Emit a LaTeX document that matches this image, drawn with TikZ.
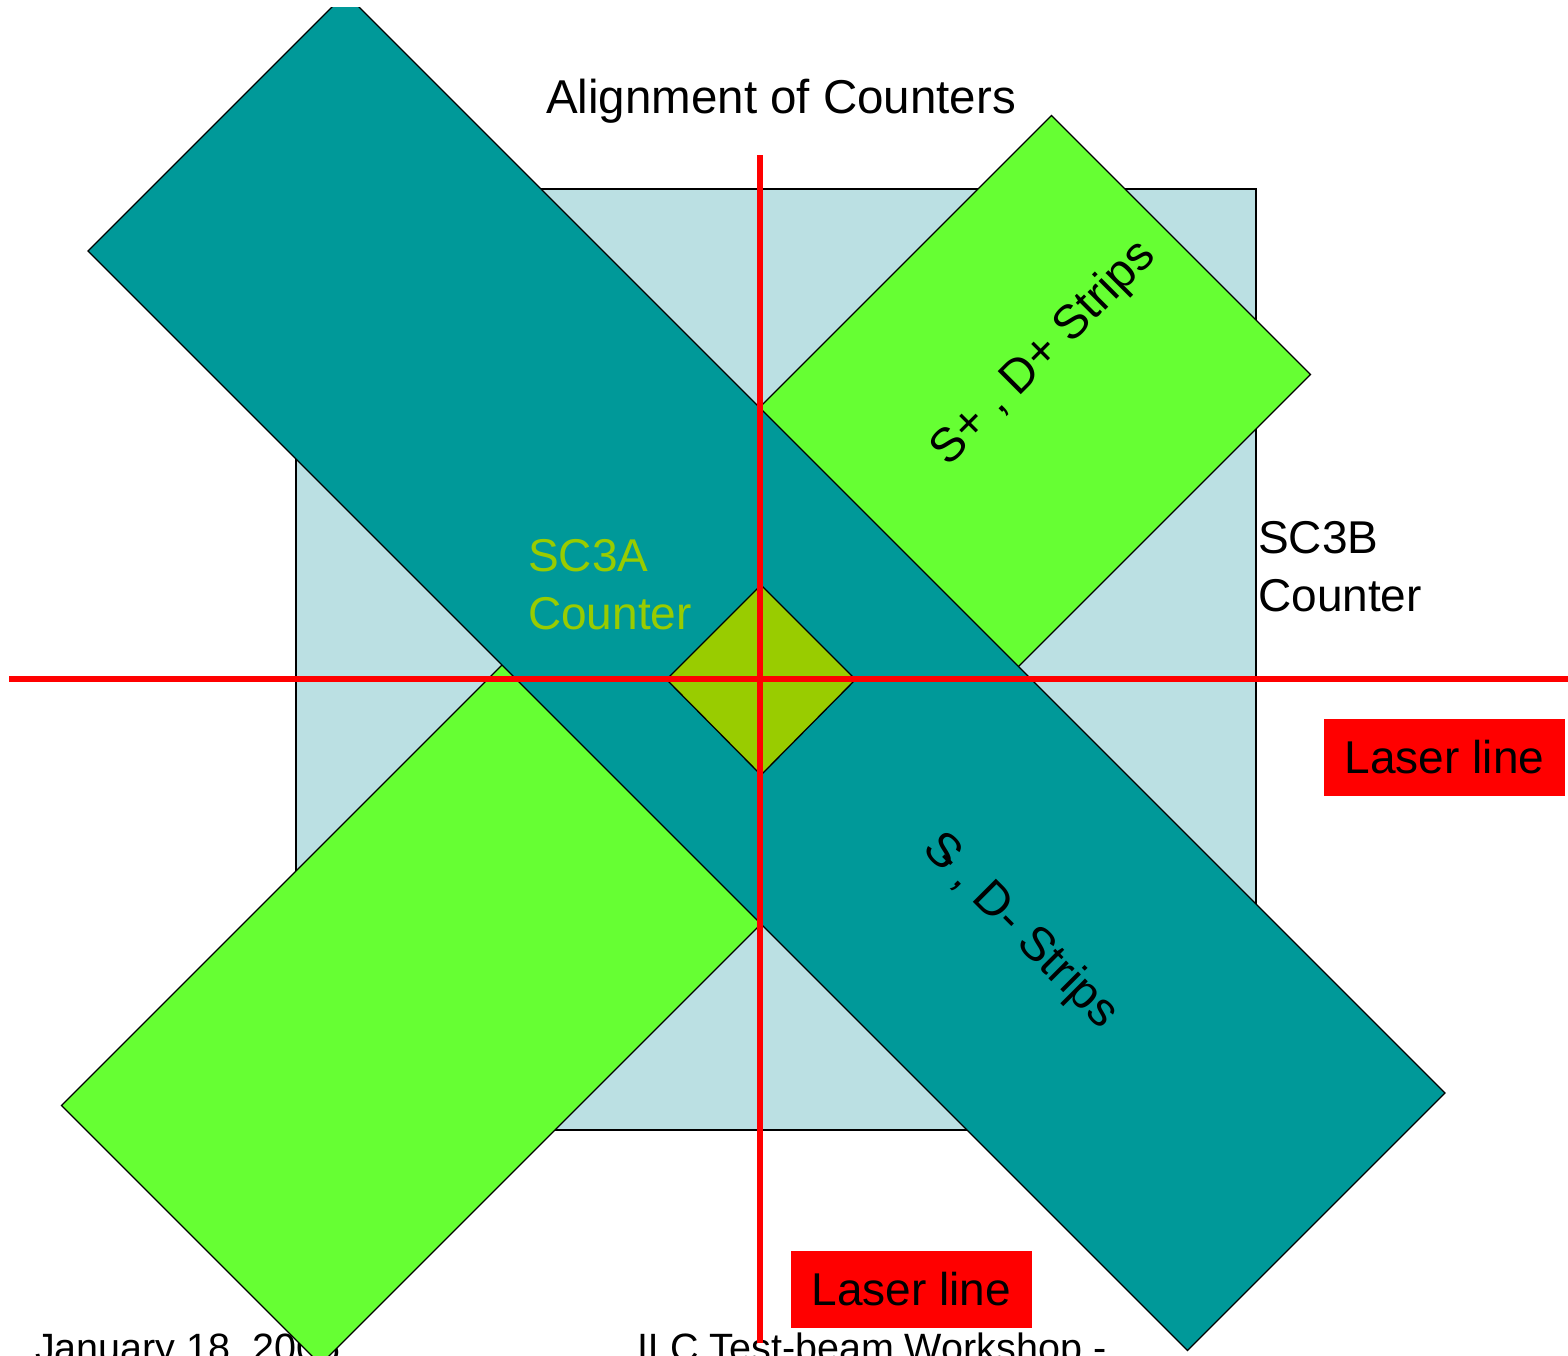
\documentclass[tikz,border=0pt]{standalone}
\usepackage{fontspec}
\setmainfont{Liberation Sans}
\definecolor{sqblue}{HTML}{BBE0E3}
\definecolor{teal}{HTML}{009999}
\definecolor{lgreen}{HTML}{66FF33}
\definecolor{olive}{HTML}{99CC00}
\definecolor{laser}{HTML}{FF0000}
\tikzset{
  shape outline/.style={draw=black, line width=1.3pt, line join=miter},
  laserline/.style={draw=laser, line width=6pt},
  laserbox/.style={fill=laser, minimum width=241pt, minimum height=77pt, inner sep=0pt, font=\fontsize{46}{55}\selectfont},
  bigtext/.style={font=\fontsize{46}{58}\selectfont, inner sep=0pt},
  footer/.style={font=\fontsize{39.5}{46}\selectfont, inner sep=0pt, anchor=base west},
  striptext/.style={font=\fontsize{47.5}{58}\selectfont, inner sep=0pt}
}
\begin{document}
\begin{tikzpicture}[x=1pt,y=-1pt]
\useasboundingbox (0,0) rectangle (1568,1355);
\clip (0,7) rectangle (1568,1355);
% footer (behind everything)
\node[footer] (date) at (35,1361) {January 18, 2006};
\node[footer] (workshop) at (637,1361) {ILC Test-beam Workshop -};
% SC3B counter (light blue square)
\node[shape outline, fill=sqblue, minimum width=960pt, minimum height=941pt, inner sep=0pt] (sc3b) at (776,659.5) {};
% green band (S+, D+ strips)
\draw[shape outline, fill=lgreen] (1051.5,115.5) -- (1310.5,374.5) -- (320.5,1364.5) -- (61.5,1105.5) -- cycle;
% teal band (S-, D- strips)
\draw[shape outline, fill=teal] (345.5,-6.5) -- (1445,1093) -- (1187.5,1350.5) -- (88,251) -- cycle;
% SC3A counter (small diamond)
\draw[shape outline, fill=olive] (761,585) -- (855.5,679.5) -- (761,775) -- (666.5,679.5) -- cycle;
% laser lines
\coordinate (hl) at (9,679);
\coordinate (hr) at (1568,679);
\coordinate (vt) at (760,155);
\coordinate (vb) at (760,1343);
\draw[laserline] (hl) -- (hr);
\draw[laserline] (vt) -- (vb);
% labels
\node[bigtext, font=\fontsize{47.5}{58}\selectfont, anchor=base] (title) at (781,113) {Alignment of Counters};
\node[bigtext, anchor=base west, align=left, text=olive] (sc3a) at (528,629) {SC3A\\Counter};
\node[bigtext, anchor=base west, align=left] (sc3blabel) at (1258,611) {SC3B\\Counter};
\node[laserbox] (laserR) at (1444.5,757.5) {Laser line};
\node[laserbox] (laserB) at (911.5,1289.5) {Laser line};
\node[striptext, rotate=45] (splus) at (1044,354) {S+ , D+ Strips};
\node[striptext, rotate=-45] (sminus) at (1020,932) {S\kern-0.3em-\kern0.2em, D- Strips};
\end{tikzpicture}
\end{document}
